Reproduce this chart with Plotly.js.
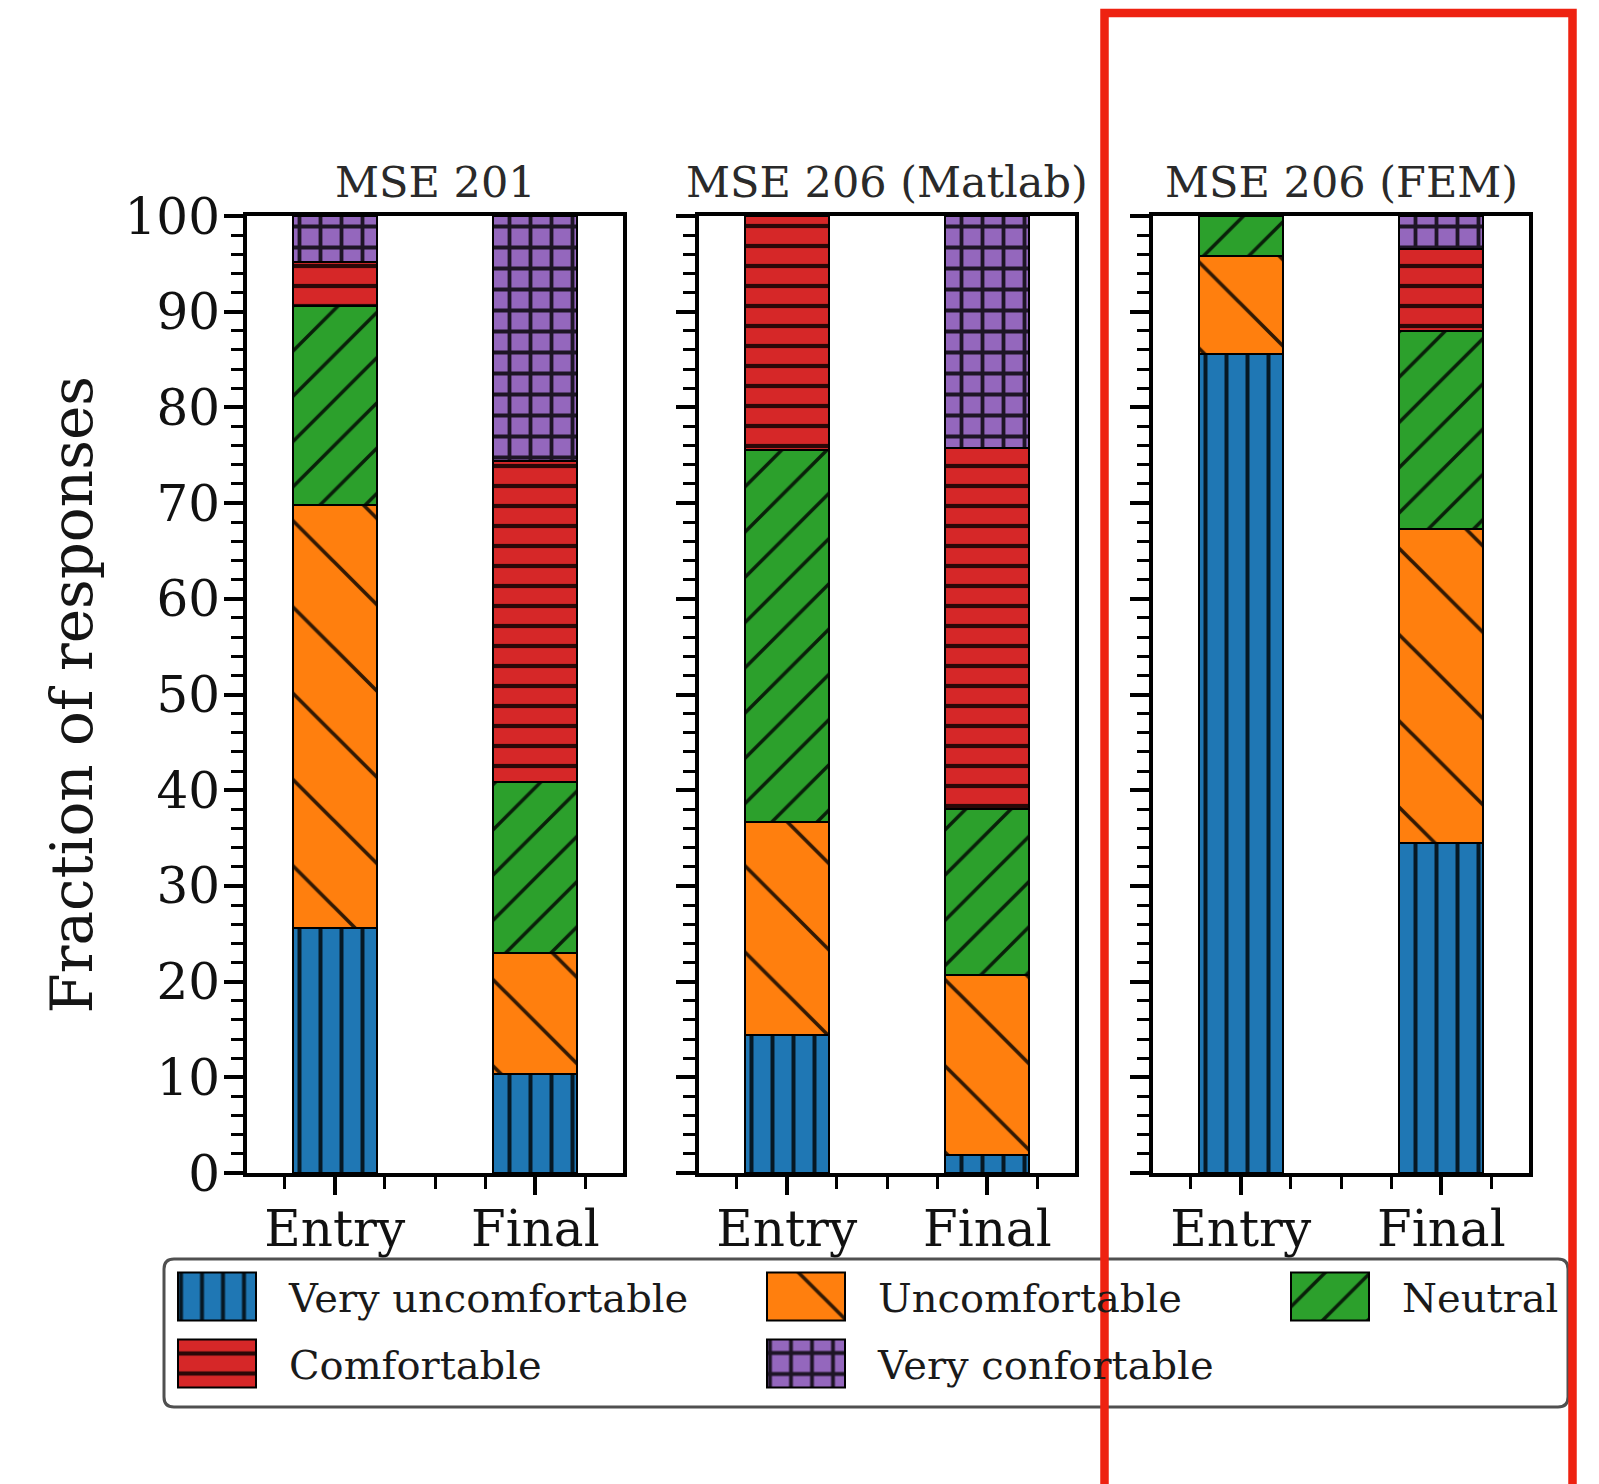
<!DOCTYPE html>
<html>
<head>
<meta charset="utf-8">
<script src="https://cdn.plot.ly/plotly-3.0.1.min.js"></script>
<style>
  html, body { margin: 0; padding: 0; background: #ffffff; }
  #chart { width: 1599px; height: 1484px; }
</style>
</head>
<body>
<div id="chart"></div>
<script>
// ---------------- DATA ----------------
const phases = ['Entry', 'Final'];
const phasePos = [0, 1];
const courses = ['MSE 201', 'MSE 206 (Matlab)', 'MSE 206 (FEM)'];
const levels = ['Very uncomfortable', 'Uncomfortable', 'Neutral', 'Comfortable', 'Very confortable'];
// Fraction of responses (%), [Entry, Final] for each course in order
const veryUncomfortable = [[25.6, 10.3], [14.4, 1.9], [85.6, 34.5]];
const uncomfortable     = [[44.2, 12.7], [22.3, 18.8], [10.2, 32.8]];
const neutral           = [[20.8, 17.9], [38.9, 17.3], [4.2, 20.7]];
const comfortable       = [[4.6, 33.5], [24.4, 37.8], [0, 8.6]];
const veryComfortable   = [[4.8, 25.6], [0, 24.2], [0, 3.4]];
const levelValues = [veryUncomfortable, uncomfortable, neutral, comfortable, veryComfortable];
const yTicks = [0, 10, 20, 30, 40, 50, 60, 70, 80, 90, 100];

// ---------------- STYLE ----------------
const levelColors = ['#1f77b4', '#ff7f0e', '#2ca02c', '#d62728', '#9467bd'];
const levelHatch = ['|', '\\', '/', '-', '+'];
const hatchSize = [21, 61, 32, 20, 21];
const hatchSolidity = [0.19, 0.06, 0.11, 0.21, 0.33];
const levelLegend = ['legend', 'legend2', 'legend3', 'legend', 'legend2'];

const W = 1599, H = 1484;
const panelLeft = [247, 699, 1153];
const panelWidth = 376;
const plotTop = 216, plotBottom = 1173;
const serif = 'DejaVu Serif';

// ---------------- TRACES ----------------
const traces = [];
courses.forEach((course, ci) => {
  levels.forEach((lv, li) => {
    traces.push({
      type: 'bar',
      name: lv,
      x: phasePos,
      y: levelValues[li][ci],
      xaxis: ci === 0 ? 'x' : 'x' + (ci + 1),
      yaxis: ci === 0 ? 'y' : 'y' + (ci + 1),
      width: 0.42,
      marker: {
        color: levelColors[li],
        line: { color: '#000000', width: 2 },
        pattern: {
          shape: levelHatch[li],
          size: hatchSize[li],
          solidity: hatchSolidity[li],
          fillmode: 'replace',
          bgcolor: levelColors[li],
          fgcolor: '#000000',
          fgopacity: 0.8
        }
      },
      legendgroup: lv,
      legend: levelLegend[li],
      showlegend: ci === 0,
      hoverinfo: 'skip'
    });
  });
});

// ---------------- AXES ----------------
function xAxis(ci) {
  return {
    domain: [panelLeft[ci] / W, (panelLeft[ci] + panelWidth) / W],
    anchor: ci === 0 ? 'y' : 'y' + (ci + 1),
    range: [-0.437, 1.437],
    tickmode: 'array', tickvals: phasePos, ticktext: phases,
    ticks: 'outside', ticklen: 18, tickwidth: 4, tickcolor: '#000',
    minor: { tickmode: 'linear', tick0: 0, dtick: 0.25, ticks: 'outside', ticklen: 12, tickwidth: 3, tickcolor: '#000' },
    showline: true, linewidth: 4, linecolor: '#000', mirror: true,
    showgrid: false, zeroline: false, fixedrange: true,
    ticklabelstandoff: -9,
    tickfont: { family: serif, size: 50, color: '#111' }
  };
}
function yAxis(ci) {
  return {
    domain: [1 - plotBottom / H, 1 - plotTop / H],
    anchor: ci === 0 ? 'x' : 'x' + (ci + 1),
    range: [0, 100],
    tickmode: 'array', tickvals: yTicks,
    showticklabels: ci === 0,
    ticks: 'outside', ticklen: 19, tickwidth: 4, tickcolor: '#000',
    minor: { tickmode: 'linear', tick0: 0, dtick: 2, ticks: 'outside', ticklen: 12, tickwidth: 3, tickcolor: '#000' },
    showline: true, linewidth: 4, linecolor: '#000', mirror: true,
    showgrid: false, zeroline: false, fixedrange: true,
    ticklabelstandoff: -6,
    tickfont: { family: serif, size: 50, color: '#111' }
  };
}

const legendBase = {
  orientation: 'v', xanchor: 'left', yanchor: 'top',
  bgcolor: 'rgba(0,0,0,0)', borderwidth: 0,
  font: { family: serif, size: 40, color: '#1a1a1a' },
  traceorder: 'grouped', tracegroupgap: 12, itemwidth: 101,
  itemclick: false, itemdoubleclick: false
};
const legendTop = 1 - 1264 / H;

// rounded legend frame (paper coords)
const fx0 = 164 / W, fx1 = 1568 / W, fy0 = 1 - 1407 / H, fy1 = 1 - 1259 / H;
const rx = 10 / W, ry = 10 / H;
const framePath = `M${fx0 + rx},${fy1} L${fx1 - rx},${fy1} Q${fx1},${fy1} ${fx1},${fy1 - ry} ` +
  `L${fx1},${fy0 + ry} Q${fx1},${fy0} ${fx1 - rx},${fy0} L${fx0 + rx},${fy0} ` +
  `Q${fx0},${fy0} ${fx0},${fy0 + ry} L${fx0},${fy1 - ry} Q${fx0},${fy1} ${fx0 + rx},${fy1} Z`;

const layout = {
  width: W, height: H,
  margin: { l: 0, r: 0, t: 0, b: 0, pad: 0, autoexpand: false },
  paper_bgcolor: '#ffffff', plot_bgcolor: '#ffffff',
  barmode: 'stack',
  xaxis: xAxis(0), xaxis2: xAxis(1), xaxis3: xAxis(2),
  yaxis: yAxis(0), yaxis2: yAxis(1), yaxis3: yAxis(2),
  legend: Object.assign({}, legendBase, { x: 178 / W, y: legendTop }),
  legend2: Object.assign({}, legendBase, { x: 767 / W, y: legendTop }),
  legend3: Object.assign({}, legendBase, { x: 1291 / W, y: legendTop }),
  annotations: courses.map((c, i) => ({
    text: c, xref: 'paper', yref: 'paper',
    x: (panelLeft[i] + panelWidth / 2) / W, y: 1 - plotTop / H,
    xanchor: 'center', yanchor: 'bottom', yshift: 7, showarrow: false,
    font: { family: serif, size: 43, color: '#2a2a2a' }
  })).concat([{
    text: 'Fraction of responses', xref: 'paper', yref: 'paper',
    x: 71 / W, y: 1 - (plotTop + plotBottom) / 2 / H,
    xanchor: 'center', yanchor: 'middle', textangle: -90, showarrow: false,
    font: { family: serif, size: 58, color: '#151515' }
  }]),
  shapes: [
    { type: 'path', xref: 'paper', yref: 'paper', path: framePath,
      line: { color: '#505050', width: 3 }, fillcolor: 'rgba(0,0,0,0)', layer: 'above' },
    { type: 'rect', xref: 'paper', yref: 'paper',
      x0: 1104.5 / W, x1: 1572.5 / W, y0: -0.05, y1: 1 - 13 / H,
      line: { color: 'rgb(238,34,17)', width: 8.5 }, fillcolor: 'rgba(0,0,0,0)', layer: 'above' }
  ]
};

Plotly.newPlot('chart', traces, layout, { staticPlot: true, displayModeBar: false }).then(gd => {
  // enlarge legend swatches (matplotlib-like patches) and reuse the bars' hatch fills
  const barFill = {};
  gd.querySelectorAll('.barlayer g.trace').forEach(g => {
    const d = g.__data__;
    if (!d || !d[0] || !d[0].trace) return;
    const p = g.querySelector('path');
    if (p && !(d[0].trace.uid in barFill)) barFill[d[0].trace.uid] = p.style.fill;
  });
  gd.querySelectorAll('.infolayer g.traces').forEach(item => {
    const d = item.__data__;
    const tr = d && d[0] && d[0].trace;
    const path = item.querySelector('.legendpoints path');
    if (!path) return;
    const m = item.getScreenCTM().inverse().multiply(path.getScreenCTM());
    const w = 78, h = 48;
    path.setAttribute('d', `M${-m.e},${-h / 2 - m.f}h${w}v${h}h${-w}Z`);
    if (tr && barFill[tr.uid]) path.style.fill = barFill[tr.uid];
    path.style.stroke = '#000';
    path.style.strokeWidth = '2px';
    path.style.strokeOpacity = '1';
  });
  gd.querySelectorAll('.infolayer .scrollbox').forEach(s => s.removeAttribute('clip-path'));
});
</script>
</body>
</html>
